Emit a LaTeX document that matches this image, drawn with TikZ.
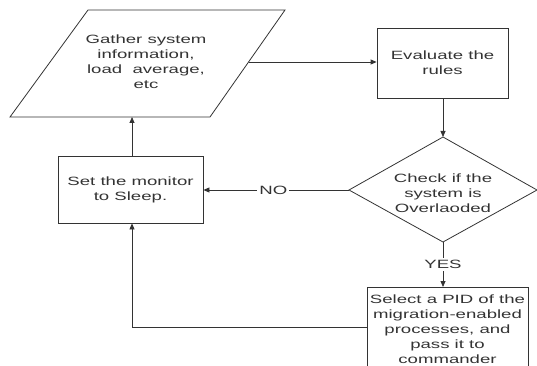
\documentclass[tikz,border=0pt]{standalone}
\usepackage{fontspec}
\setmainfont[FakeStretch=1.55]{Liberation Sans}
\usetikzlibrary{arrows.meta}
\begin{document}
\begin{tikzpicture}[x=1pt,y=-1pt,
  every node/.style={font=\fontsize{12}{15}\selectfont, text=black!80},
  shapeline/.style={draw=black!80, line width=0.8pt},
  boxnode/.style={shapeline, rectangle, inner sep=0pt, align=center},
  conn/.style={draw=black!80, line width=0.8pt, -{Triangle[length=6pt,width=5pt]}},
  lab/.style={fill=white, inner sep=2pt}]
\useasboundingbox (0,0) rectangle (537,366);
% parallelogram
\coordinate (pTL) at (88,10);
\coordinate (pTR) at (285,10);
\coordinate (pBR) at (210,117);
\coordinate (pBL) at (10,117);
\draw[shapeline] (pTL) -- (pTR) -- (pBR) -- (pBL) -- cycle;
\node[align=center] (gather) at (146,62) {Gather system\\information,\\load\ \ average,\\etc};
\coordinate (gR) at (248.5,62);
\coordinate (gB) at (132,117);
% evaluate
\node[boxnode, minimum width=131pt, minimum height=70pt] (eval) at (442.5,63) {Evaluate the\\rules};
% diamond
\coordinate (dT) at (443,137);
\coordinate (dR) at (537,190);
\coordinate (dB) at (443,242);
\coordinate (dL) at (349,190);
\draw[shapeline] (dT) -- (dR) -- (dB) -- (dL) -- cycle;
\node[align=center] (check) at (443,193) {Check if the\\system is\\Overlaoded};
% other boxes
\node[boxnode, minimum width=145pt, minimum height=67pt] (set) at (130.5,189.5) {Set the monitor\\to Sleep.};
\node[boxnode, minimum width=161pt, minimum height=84pt, anchor=north] (select) at (447.5,287) {Select a PID of the\\migration-enabled\\processes, and\\pass it to\\commander};
% connectors
\draw[conn] (gR) -- (eval.west |- gR);
\draw[conn] (eval.south -| dT) -- (dT);
\draw[conn] (dL) -- node[lab, pos=0.52] (no) {NO} (set.east |- dL);
\draw[conn] (dB) -- node[lab, pos=0.5] (yes) {YES} (select.north -| dB);
\draw[conn] (select.west |- 0,327) -| (gB |- set.south);
\draw[conn] (gB |- set.north) -- (gB);
\end{tikzpicture}
\end{document}
